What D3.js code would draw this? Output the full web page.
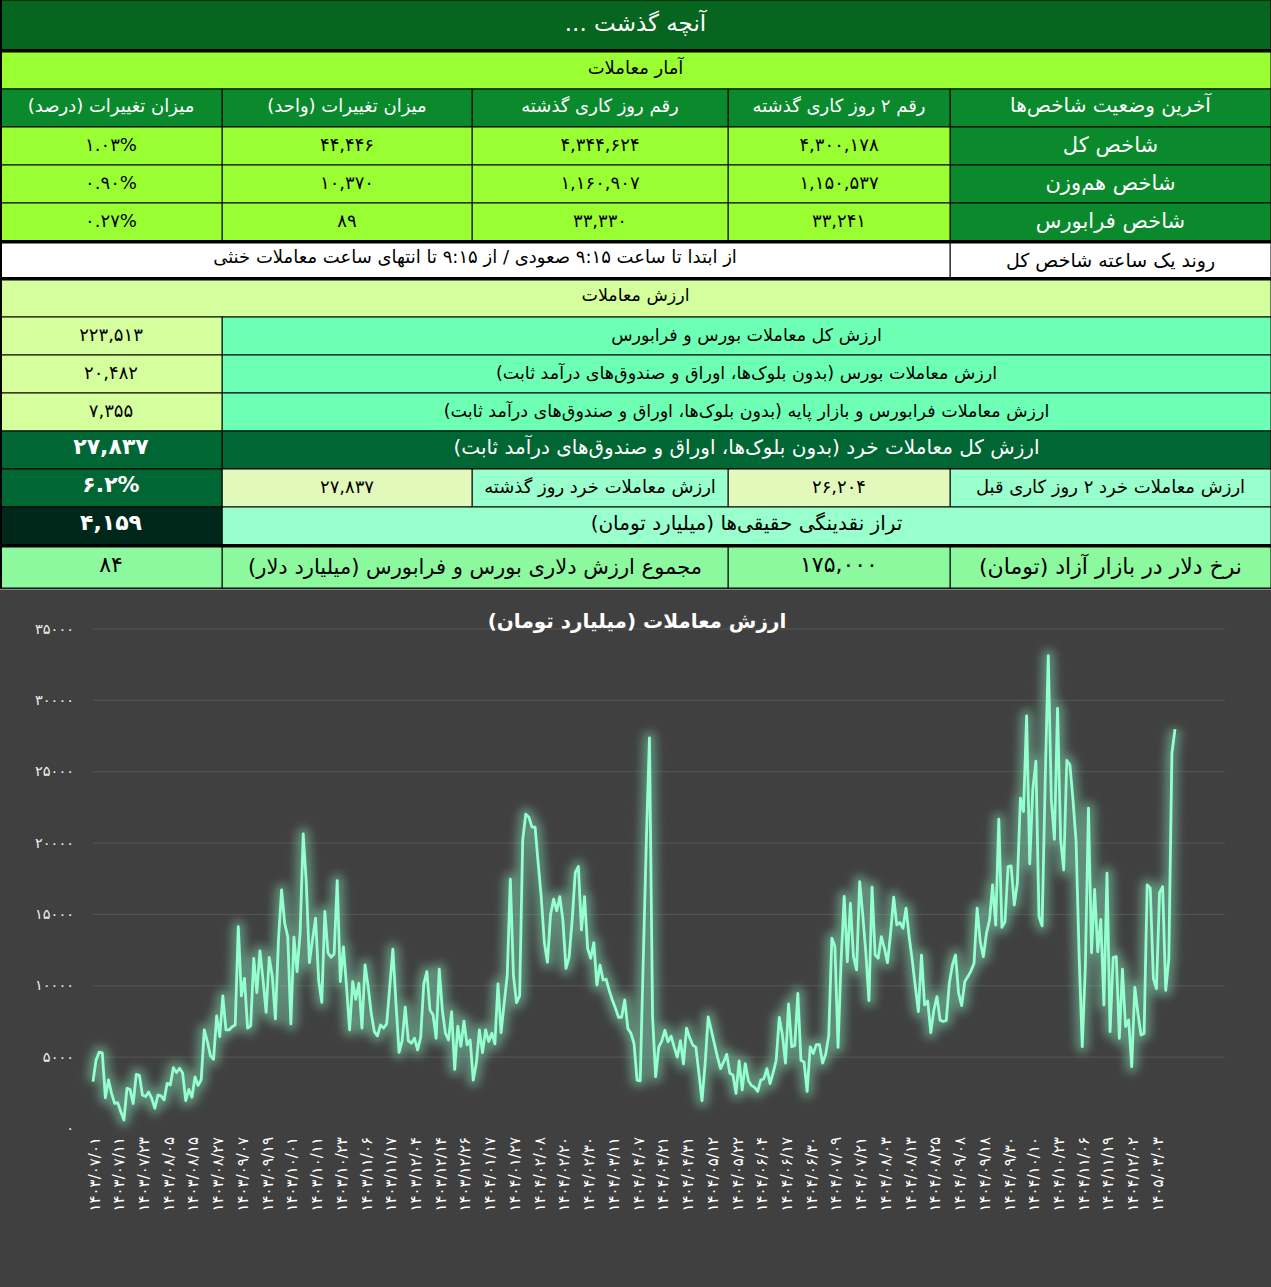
<!doctype html>
<html>
<head>
<meta charset="utf-8">
<title>آنچه گذشت</title>
<style>
  html, body { margin: 0; padding: 0; background: #404040; }
  svg { display: block; font-family: "DejaVu Sans", sans-serif; }
</style>
</head>
<body>
<svg width="1271" height="1287"></svg>
<script src="https://cdn.jsdelivr.net/npm/d3@7"></script>
<script>
// ---- table texts / values ----
var pageTitle = "آنچه گذشت ...";
var statsTitle = "آمار معاملات";
var indexHeaders = ["آخرین وضعیت شاخص‌ها", "رقم ۲ روز کاری گذشته", "رقم روز کاری گذشته", "میزان تغییرات (واحد)", "میزان تغییرات (درصد)"];
var indexNames = ["شاخص کل", "شاخص هم‌وزن", "شاخص فرابورس"];
var indexPrev2 = ["۴,۳۰۰,۱۷۸", "۱,۱۵۰,۵۳۷", "۳۳,۲۴۱"];
var indexPrev1 = ["۴,۳۴۴,۶۲۴", "۱,۱۶۰,۹۰۷", "۳۳,۳۳۰"];
var indexDiff = ["۴۴,۴۴۶", "۱۰,۳۷۰", "۸۹"];
var indexPct = ["۱.۰۳%", "۰.۹۰%", "۰.۲۷%"];
var trendLabel = "روند یک ساعته شاخص کل";
var trendText = "از ابتدا تا ساعت ۹:۱۵ صعودی / از ۹:۱۵ تا انتهای ساعت معاملات خنثی";
var valueTitle = "ارزش معاملات";
var valueLabels = ["ارزش کل معاملات بورس و فرابورس",
  "ارزش معاملات بورس (بدون بلوک‌ها، اوراق و صندوق‌های درآمد ثابت)",
  "ارزش معاملات فرابورس و بازار پایه (بدون بلوک‌ها، اوراق و صندوق‌های درآمد ثابت)"];
var valueNums = ["۲۲۳,۵۱۳", "۲۰,۴۸۲", "۷,۳۵۵"];
var retailLabel = "ارزش کل معاملات خرد (بدون بلوک‌ها، اوراق و صندوق‌های درآمد ثابت)";
var retailValue = "۲۷,۸۳۷";
var retailPrevLabels = ["ارزش معاملات خرد ۲ روز کاری قبل", "ارزش معاملات خرد روز گذشته"];
var retailPrevValues = ["۲۶,۲۰۴", "۲۷,۸۳۷"];
var retailChange = "۶.۲%";
var liquidityLabel = "تراز نقدینگی حقیقی‌ها (میلیارد تومان)";
var liquidityValue = "۴,۱۵۹";
var dollarLabel = "نرخ دلار در بازار آزاد (تومان)";
var dollarValue = "۱۷۵,۰۰۰";
var dollarSumLabel = "مجموع ارزش دلاری بورس و فرابورس (میلیارد دلار)";
var dollarSumValue = "۸۴";

// ---- chart data ----
var chartTitle = "ارزش معاملات (میلیارد تومان)";
var dateLabels = ["۱۴۰۳/۰۷/۰۱", "۱۴۰۳/۰۷/۱۱", "۱۴۰۳/۰۷/۲۳", "۱۴۰۳/۰۸/۰۵", "۱۴۰۳/۰۸/۱۵", "۱۴۰۳/۰۸/۲۷",
  "۱۴۰۳/۰۹/۰۷", "۱۴۰۳/۰۹/۱۹", "۱۴۰۳/۱۰/۰۱", "۱۴۰۳/۱۰/۱۱", "۱۴۰۳/۱۰/۲۳", "۱۴۰۳/۱۱/۰۶", "۱۴۰۳/۱۱/۱۷",
  "۱۴۰۳/۱۲/۰۴", "۱۴۰۳/۱۲/۱۴", "۱۴۰۳/۱۲/۲۶", "۱۴۰۴/۰۱/۱۷", "۱۴۰۴/۰۱/۲۷", "۱۴۰۴/۰۲/۰۸", "۱۴۰۴/۰۲/۲۰",
  "۱۴۰۴/۰۲/۳۰", "۱۴۰۴/۰۳/۱۱", "۱۴۰۴/۰۴/۰۷", "۱۴۰۴/۰۴/۲۱", "۱۴۰۴/۰۴/۳۱", "۱۴۰۴/۰۵/۱۲", "۱۴۰۴/۰۵/۲۲",
  "۱۴۰۴/۰۶/۰۴", "۱۴۰۴/۰۶/۱۷", "۱۴۰۴/۰۶/۳۰", "۱۴۰۴/۰۷/۰۹", "۱۴۰۴/۰۷/۲۱", "۱۴۰۴/۰۸/۰۳", "۱۴۰۴/۰۸/۱۳",
  "۱۴۰۴/۰۸/۲۵", "۱۴۰۴/۰۹/۰۸", "۱۴۰۴/۰۹/۱۸", "۱۴۰۴/۰۹/۳۰", "۱۴۰۴/۱۰/۱۰", "۱۴۰۴/۱۰/۲۳", "۱۴۰۴/۱۱/۰۶",
  "۱۴۰۴/۱۱/۱۹", "۱۴۰۴/۱۲/۰۲", "۱۴۰۵/۰۳/۰۳"];
var labelEvery = 8;
var yTicks = [0, 5000, 10000, 15000, 20000, 25000, 30000, 35000];
var tradeValue = [
  3250, 4770, 5310, 5260, 2120, 3370, 2430, 1730, 1780, 1140, 560, 2780, 2690, 1710, 3760, 3690,
  2310, 2200, 2520, 2080, 1380, 2310, 2250, 1970, 3130, 3010, 4230, 3880, 4180, 3850, 1920, 2700,
  2150, 3580, 2980, 3390, 6870, 6050, 5050, 4820, 7850, 6400, 9250, 6870, 6870, 7100, 7220, 14110,
  9250, 10490, 7000, 7150, 11890, 9480, 12410, 10380, 8110, 11960, 10610, 7640, 13180, 16680, 14350, 13410,
  7290, 13370, 10960, 13650, 20610, 17150, 11590, 13180, 14700, 10330, 8810, 15170, 12270, 11960, 12190, 17340,
  10260, 12690, 9950, 6870, 10260, 9020, 10140, 7000, 11420,
  9910, 8040, 6750, 6450, 7220, 7000, 7290, 9910, 12530, 8740, 5300, 6100, 8460, 6100, 5940, 6290,
  5470, 6360, 10100, 10960, 8270, 7920, 6290, 11130, 8270, 6640, 6170, 8150, 4110, 7130, 5730, 7480,
  5820, 6170, 3360, 4530, 6880, 5280, 6880, 6060, 6640, 5890, 10100, 6680, 8740, 10700, 17430, 10700,
  8790, 9260, 20190, 21990, 21780, 21080, 21080, 18560, 16180, 12990, 11620, 14940, 16030, 15210, 16210, 14570,
  11180, 11950, 14570, 17900, 18320, 13880, 16210, 12590, 11890, 12990, 10020, 11420, 10370, 10420, 9630, 8970,
  8390, 7760, 7760, 8970, 6980, 6640, 5940, 3360, 3310,
  11780, 20120, 27340, 7800, 3600, 5670, 6100, 6850, 6030, 6430, 5670, 4970, 6120, 4500, 6990, 6330,
  5810, 5670, 3830, 1920, 4500, 7780, 6850, 5920, 4970, 4160, 4630, 5160, 3830, 3720, 2430, 4700,
  2670, 4500, 3320, 2970, 2850, 2570, 3360, 3440, 4160, 3110, 3860, 4750, 7750, 6530, 4550, 8690,
  5690, 5770, 9440, 4750, 4630, 2570, 5690, 5220, 5840, 5840, 4550, 5160, 6490, 13300, 12720, 5650,
  11780, 16220, 11660, 15750, 12010, 11080, 17270, 14930, 12240, 8930, 16870, 12120, 11890, 13410, 12590, 11590,
  13650, 16170, 14230, 14400, 14000, 15400, 13410, 11780, 9910, 8160, 12120, 8620, 8900, 6680,
  8270, 9210, 7570, 7460, 7530, 10140, 11420, 12120, 9440, 8570, 10260, 10610, 11010, 11550, 15400, 13050,
  12000, 13640, 14570, 17030, 14220, 21640, 14060, 14450, 18310, 18360, 15630, 17150, 23110, 22170, 28880, 18510,
  23720, 25700, 14820, 14160, 24190, 33090, 22990, 20230, 29410, 20190, 18080, 25750, 25450, 22990, 20070, 12000,
  5700, 11320, 22410, 12280, 16720, 12350, 14620, 8620, 17850, 6750, 11960, 12000, 6280, 11130, 7110, 7570,
  4300, 9860, 8040, 6520, 6630, 17030, 16800, 10470, 9770, 16490, 16910, 9650, 11870, 26260, 27950
];

var svg = d3.select("svg"),
    W = +svg.attr("width");

// ---------------- table ----------------
var cols = [0, 222, 472, 728, 950, W];
var C = {
  title: "#06661f", lime: "#99ff33", green: "#0a8a2d", paleLime: "#d4ff9c",
  aqua: "#6dffb4", mint: "#99ffcc", cream: "#e2f9bb", dark: "#006633",
  darkest: "#00281a", dollar: "#8cf99f"
};
var tbl = svg.append("g");

function cell(x0, x1, y0, y1, fill, txt, o) {
  o = o || {};
  tbl.append("rect").attr("x", x0).attr("y", y0).attr("width", x1 - x0).attr("height", y1 - y0)
    .attr("fill", fill).attr("stroke", "#000").attr("stroke-width", 1);
  if (txt == null) return;
  tbl.append("text")
    .attr("x", (x0 + x1) / 2).attr("y", (y0 + y1) / 2 + (o.dy || 6))
    .attr("text-anchor", "middle")
    .attr("direction", o.ltr ? "ltr" : "rtl")
    .attr("font-size", o.size || 16)
    .attr("font-weight", o.bold ? "bold" : null)
    .attr("fill", o.color || "#000")
    .text(txt);
}
function thick(y, h) {
  tbl.append("rect").attr("x", 0).attr("y", y).attr("width", W).attr("height", h || 3).attr("fill", "#000");
}

cell(0, W, 0, 51, C.title, pageTitle, { size: 23, color: "#fff", dy: 5 });
thick(49, 3);
cell(0, W, 52, 89, C.lime, statsTitle, { size: 18, dy: 3 });

// header row: rightmost column first
indexHeaders.forEach(function(h, i) {
  cell(cols[4 - i], cols[5 - i], 89, 127, C.green, h, { size: i === 0 ? 20 : 18, color: "#fff", dy: 4 });
});
var rowsY = [127, 165, 203];
indexNames.forEach(function(n, r) {
  var y0 = rowsY[r], y1 = y0 + 38;
  cell(cols[4], cols[5], y0, y1, C.green, n, { size: 21, color: "#fff", dy: 6 });
  cell(cols[3], cols[4], y0, y1, C.lime, indexPrev2[r], { size: 18, ltr: true, dy: 5 });
  cell(cols[2], cols[3], y0, y1, C.lime, indexPrev1[r], { size: 18, ltr: true, dy: 5 });
  cell(cols[1], cols[2], y0, y1, C.lime, indexDiff[r], { size: 18, ltr: true, dy: 5 });
  cell(cols[0], cols[1], y0, y1, C.lime, indexPct[r], { size: 18, ltr: true, dy: 5 });
});
thick(240, 3);
cell(cols[4], W, 243, 278, "#fff", trendLabel, { size: 19, dy: 6 });
cell(0, cols[4], 243, 278, "#fff", trendText, { size: 18, dy: 2 });
thick(277, 3);
cell(0, W, 280, 317, C.paleLime, valueTitle, { size: 17.5, dy: 2 });

var vY = [317, 355, 393];
valueLabels.forEach(function(l, r) {
  cell(cols[1], W, vY[r], vY[r] + 38, C.aqua, l, { size: 17.5, dy: 5 });
  cell(0, cols[1], vY[r], vY[r] + 38, C.paleLime, valueNums[r], { size: 18, ltr: true, dy: 5 });
});
cell(cols[1], W, 431, 469, C.dark, retailLabel, { size: 20, color: "#fff", dy: 4 });
cell(0, cols[1], 431, 469, C.dark, retailValue, { size: 22, bold: true, color: "#fff", ltr: true, dy: 4 });

cell(cols[4], W, 469, 507, C.mint, retailPrevLabels[0], { size: 18, dy: 5 });
cell(cols[3], cols[4], 469, 507, C.cream, retailPrevValues[0], { size: 18, ltr: true, dy: 5 });
cell(cols[2], cols[3], 469, 507, C.mint, retailPrevLabels[1], { size: 18, dy: 5 });
cell(cols[1], cols[2], 469, 507, C.cream, retailPrevValues[1], { size: 18, ltr: true, dy: 5 });
cell(0, cols[1], 469, 507, C.dark, retailChange, { size: 22, bold: true, color: "#fff", ltr: true, dy: 4 });

cell(cols[1], W, 507, 545, C.mint, liquidityLabel, { size: 20, dy: 4 });
cell(0, cols[1], 507, 545, C.darkest, liquidityValue, { size: 22, bold: true, color: "#fff", ltr: true, dy: 4 });
thick(544, 3);
cell(cols[4], W, 547, 588, C.dollar, dollarLabel, { size: 22, dy: 6 });
cell(cols[3], cols[4], 547, 588, C.dollar, dollarValue, { size: 22, ltr: true, dy: 4 });
cell(cols[1], cols[3], 547, 588, C.dollar, dollarSumLabel, { size: 21, dy: 6 });
cell(0, cols[1], 547, 588, C.dollar, dollarSumValue, { size: 22, ltr: true, dy: 4 });
tbl.append("rect").attr("x", 0).attr("y", 0).attr("width", 2).attr("height", 588).attr("fill", "#000");

// ---------------- chart ----------------
var chart = svg.append("g");
chart.append("rect").attr("x", 0).attr("y", 589).attr("width", W).attr("height", 1287 - 589)
  .attr("fill", "#404040");
chart.append("line").attr("x1", 0).attr("x2", W).attr("y1", 589.5).attr("y2", 589.5)
  .attr("stroke", "#8a8a8a");

var x = d3.scaleLinear().domain([0, tradeValue.length - 1]).range([93, 1175]);
var y = d3.scaleLinear().domain([0, 35000]).range([1128, 628.5]);
var fa = function(s) { return String(s).replace(/\d/g, function(d) { return "۰۱۲۳۴۵۶۷۸۹"[d]; }); };

var yAxis = d3.axisLeft(y).tickValues(yTicks).tickSize(-(1225 - 93)).tickFormat(function(d) { return fa(d); });
var yG = chart.append("g").attr("transform", "translate(93,0)").call(yAxis);
yG.select(".domain").remove();
yG.selectAll(".tick line").attr("stroke", "#555").attr("stroke-width", 1)
  .filter(function(d) { return d === 0; }).remove();
yG.selectAll(".tick text").attr("x", -19).attr("fill", "#eee").attr("font-size", 14.5)
  .attr("font-family", "DejaVu Sans, sans-serif");

var xTickIdx = dateLabels.map(function(d, i) { return i * labelEvery; });
var xAxis = d3.axisBottom(x).tickValues(xTickIdx).tickSize(0)
  .tickFormat(function(d) { return dateLabels[d / labelEvery]; });
var xG = chart.append("g").attr("transform", "translate(0,1137)").call(xAxis);
xG.select(".domain").remove();
xG.selectAll(".tick text")
  .attr("fill", "#fff").attr("font-size", 15).attr("font-family", "DejaVu Sans, sans-serif")
  .attr("text-anchor", "end").attr("dy", null).attr("y", 0).attr("x", 0)
  .attr("transform", "translate(6,0) rotate(-90)");

chart.append("text").attr("x", 637).attr("y", 628).attr("text-anchor", "middle").attr("direction", "rtl")
  .attr("font-size", 20).attr("font-weight", "bold").attr("fill", "#fff").text(chartTitle);

var defs = svg.append("defs");
var f = defs.append("filter").attr("id", "glow").attr("x", "-10%").attr("y", "-10%")
  .attr("width", "120%").attr("height", "120%");
f.append("feGaussianBlur").attr("stdDeviation", 5);

var line = d3.line().x(function(d, i) { return x(i); }).y(function(d) { return y(d); });
chart.append("path").datum(tradeValue).attr("d", line).attr("fill", "none")
  .attr("stroke", "#8fffd0").attr("stroke-width", 13).attr("stroke-opacity", 0.4)
  .attr("stroke-linejoin", "round").attr("filter", "url(#glow)");
chart.append("path").datum(tradeValue).attr("d", line).attr("fill", "none")
  .attr("stroke", "#94ffcf").attr("stroke-width", 2.8).attr("stroke-linejoin", "round");
</script>
</body>
</html>
